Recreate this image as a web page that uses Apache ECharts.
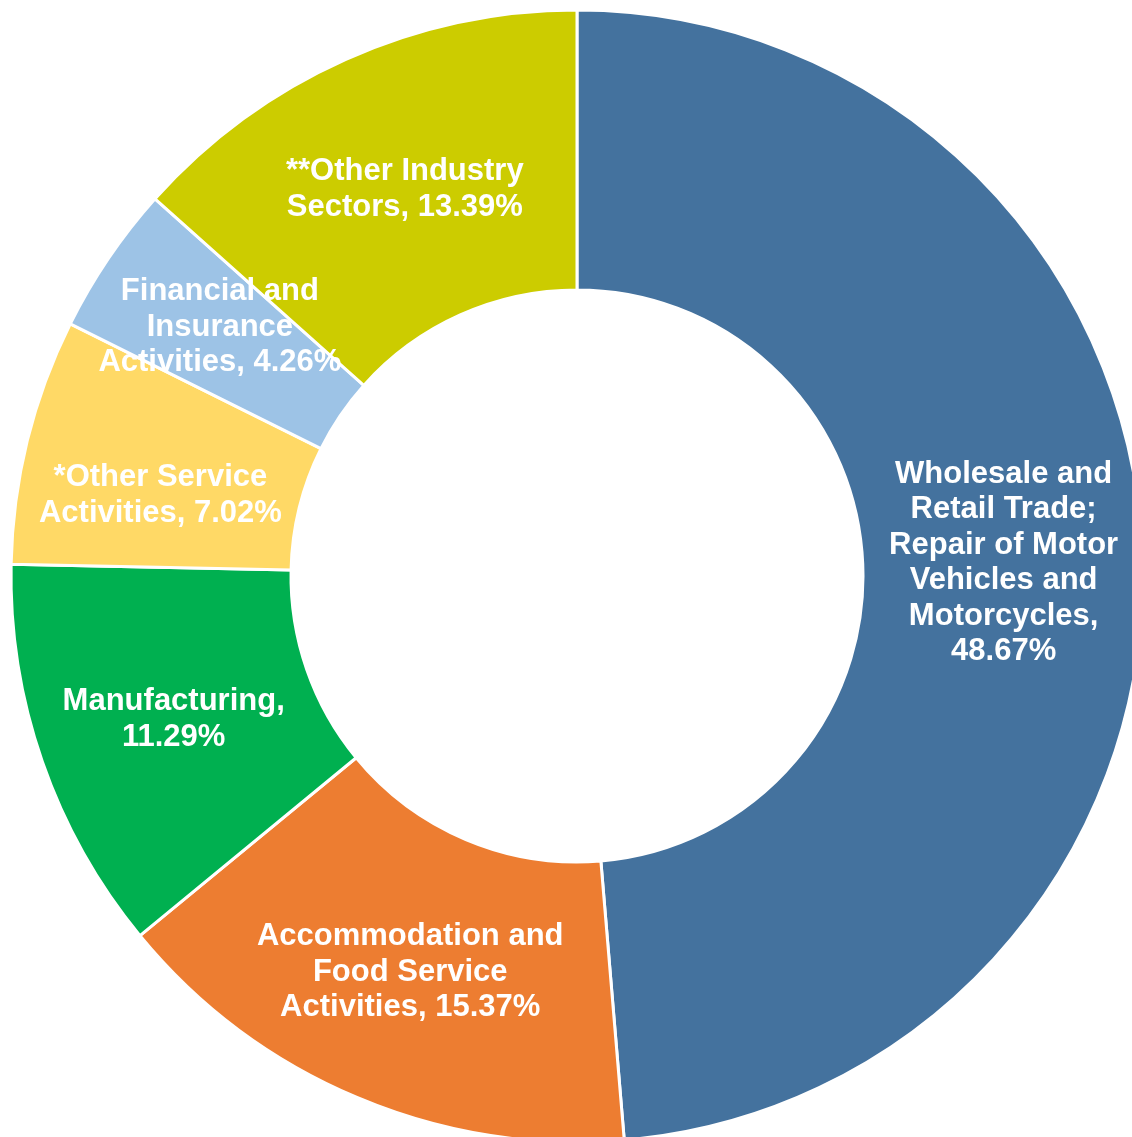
<!DOCTYPE html>
<html>
<head>
<meta charset="utf-8">
<script src="https://cdn.jsdelivr.net/npm/echarts@6/dist/echarts.min.js"></script>
<style>
  html, body { margin: 0; padding: 0; background: #fff; }
  #chart { width: 1132px; height: 1137px; }
</style>
</head>
<body>
<div id="chart"></div>
<script>
var sectors = [
  'Wholesale and Retail Trade; Repair of Motor Vehicles and Motorcycles',
  'Accommodation and Food Service Activities',
  'Manufacturing',
  '*Other Service Activities',
  'Financial and Insurance Activities',
  '**Other Industry Sectors'
];
var shares = [48.67, 15.37, 11.29, 7.02, 4.26, 13.39];
var labelLines = [
  ['Wholesale and', 'Retail Trade;', 'Repair of Motor', 'Vehicles and', 'Motorcycles,', '48.67%'],
  ['Accommodation and', 'Food Service', 'Activities, 15.37%'],
  ['Manufacturing,', '11.29%'],
  ['*Other Service', 'Activities, 7.02%'],
  ['Financial and', 'Insurance', 'Activities, 4.26%'],
  ['**Other Industry', 'Sectors, 13.39%']
];
var colors = ['#44729e', '#ed7d31', '#00b050', '#ffd966', '#9dc3e6', '#cccc00'];
var offsets = [[-2, 5], [0, 1], [2, 3], [0, 22], [-2, -8], [3, 5]];

var chart = echarts.init(document.getElementById('chart'));

var data = sectors.map(function (s, i) {
  return {
    name: s,
    value: shares[i],
    itemStyle: { color: colors[i] },
    label: { offset: offsets[i] }
  };
});

chart.setOption({
  animation: false,
  series: [{
    type: 'pie',
    center: [577, 576],
    radius: [286, 566],
    startAngle: 90,
    clockwise: true,
    avoidLabelOverlap: false,
    itemStyle: { borderColor: '#fff', borderWidth: 3 },
    label: {
      show: true,
      position: 'inside',
      color: '#fff',
      fontFamily: 'Liberation Sans, Arial, sans-serif',
      fontWeight: 'bold',
      fontSize: 31,
      lineHeight: 35.5,
      align: 'center',
      formatter: function (p) {
        return labelLines[p.dataIndex].join('\n');
      }
    },
    labelLine: { show: false },
    emphasis: { disabled: true },
    data: data
  }]
});

window.addEventListener('resize', function () {
  chart.resize();
});
</script>
</body>
</html>
